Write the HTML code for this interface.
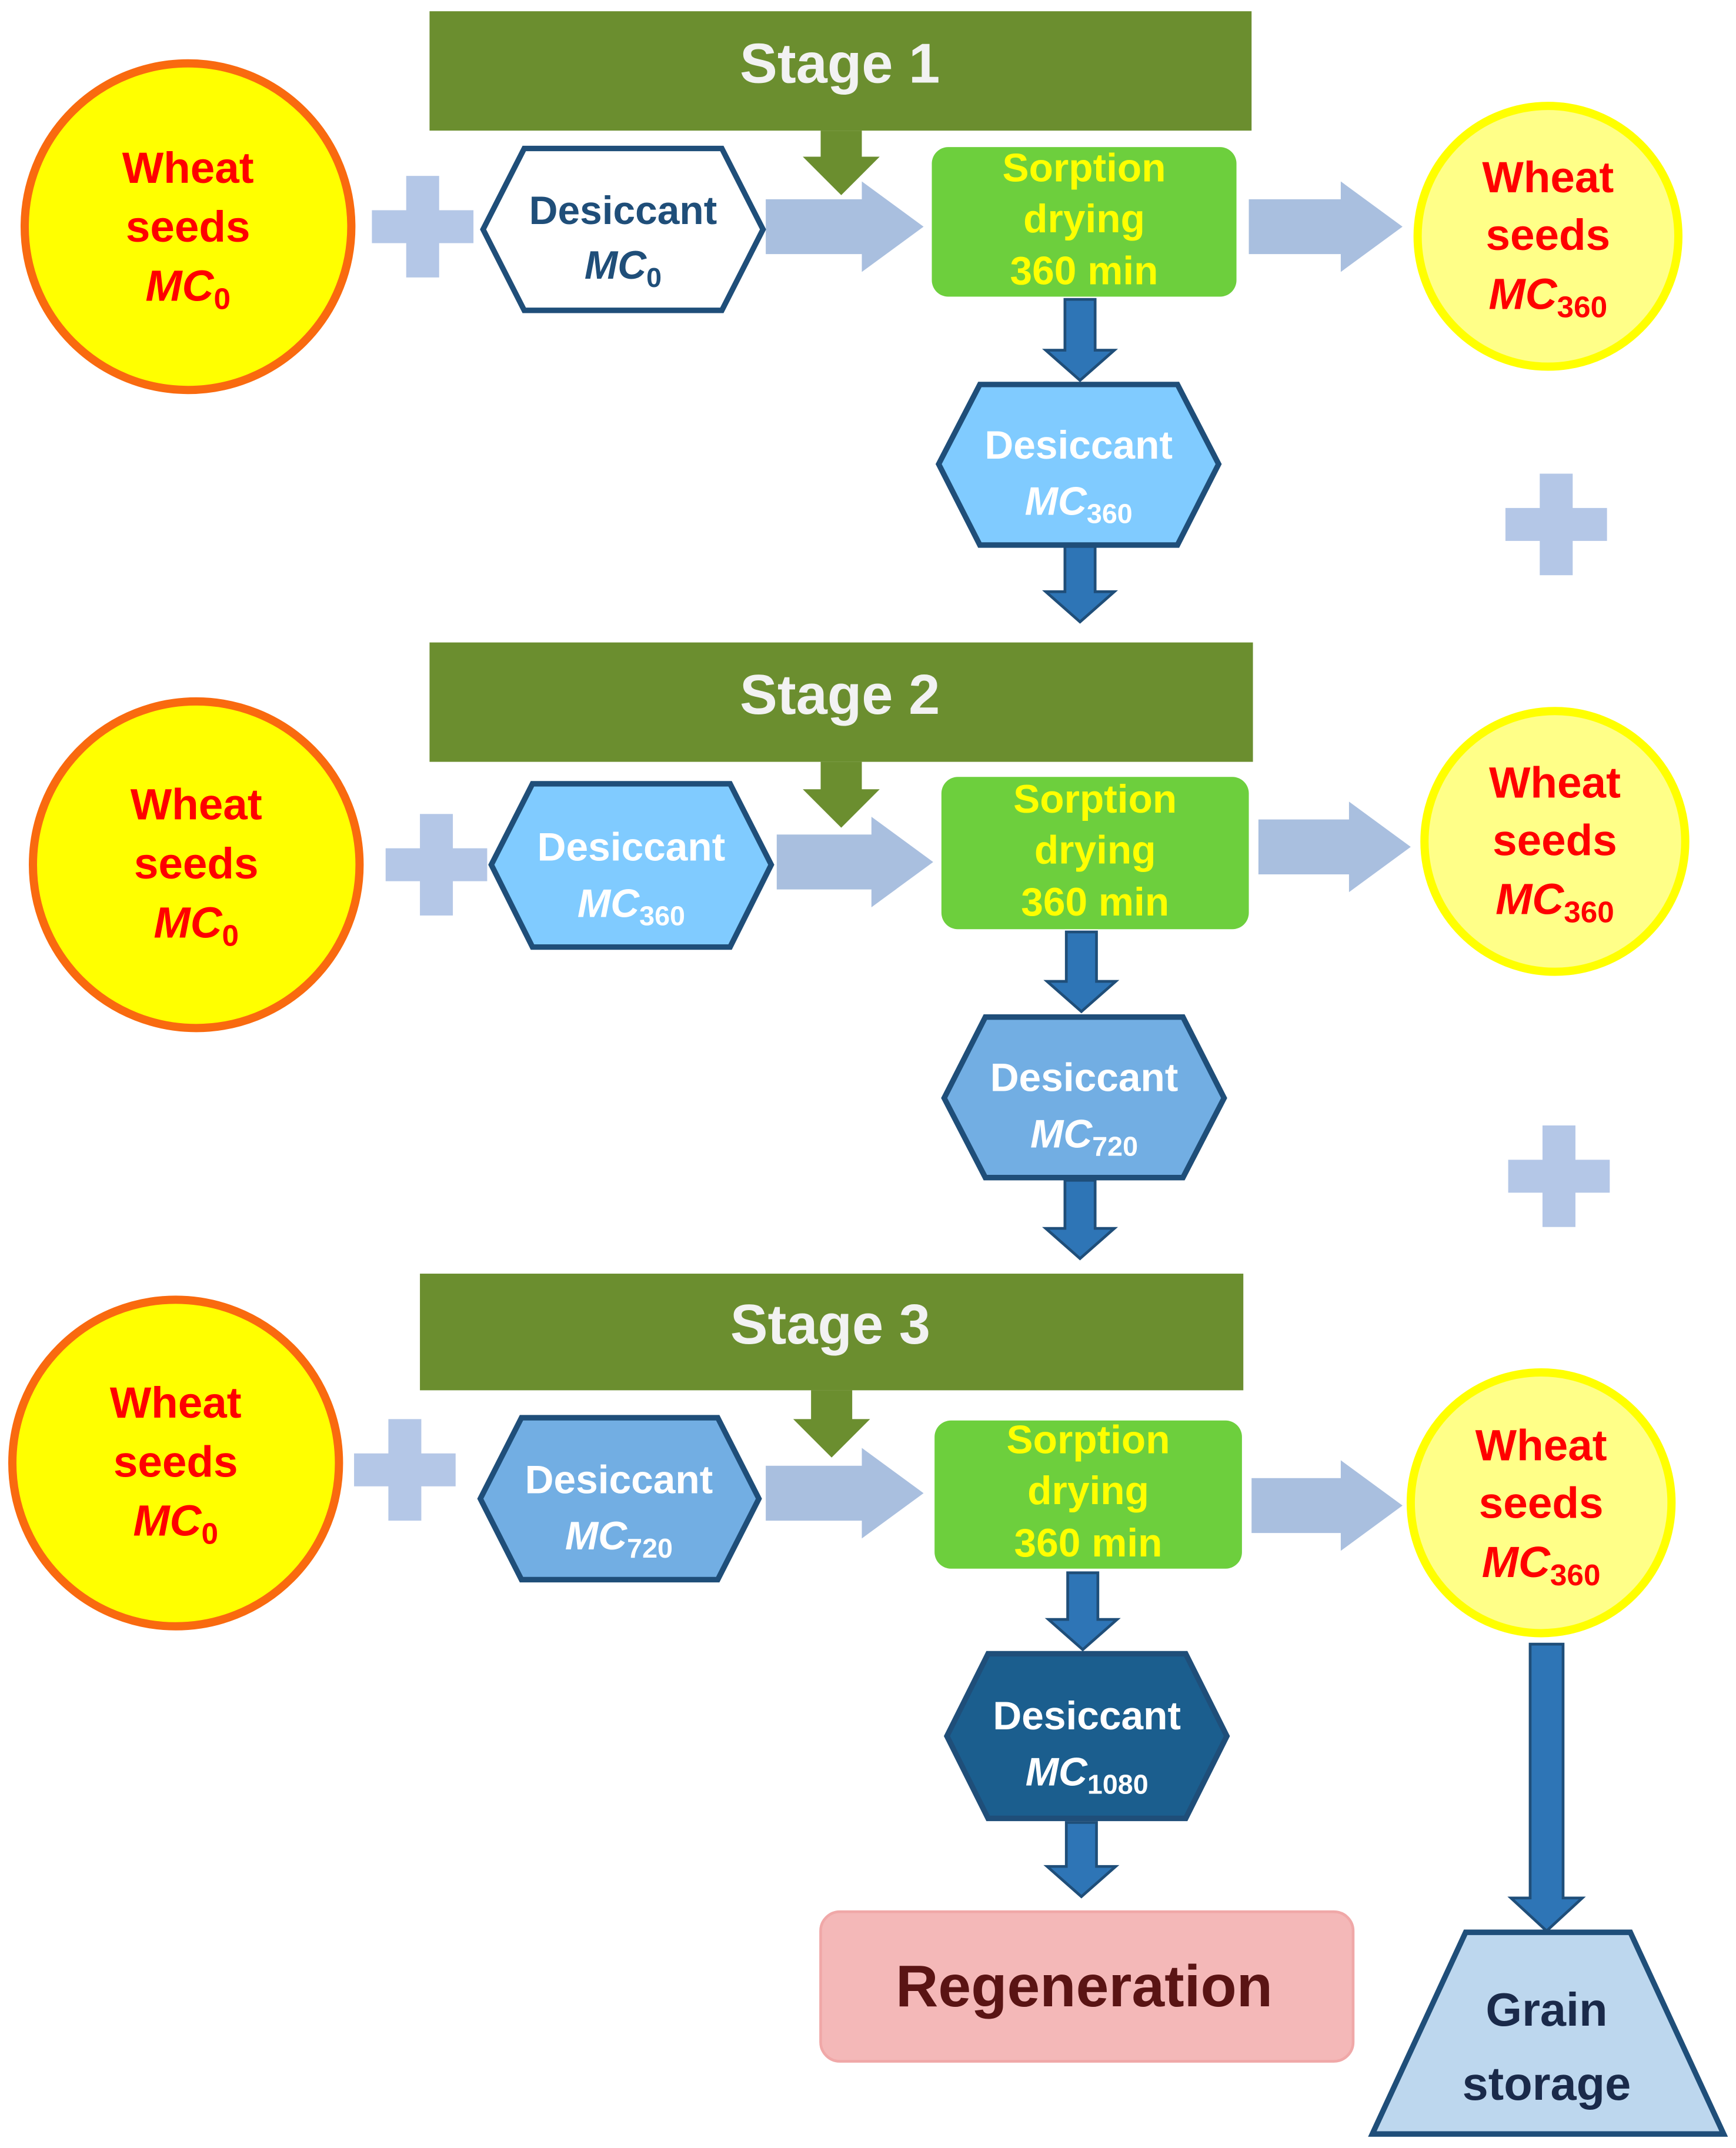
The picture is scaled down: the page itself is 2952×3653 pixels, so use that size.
<!DOCTYPE html>
<html><head><meta charset="utf-8"><style>
html,body{margin:0;padding:0;background:#fff;}
svg{display:block;}
text{font-family:"Liberation Sans",sans-serif;font-weight:bold;text-anchor:middle;}
</style></head><body>
<svg width="2952" height="3653" viewBox="0 0 1265 1565" xmlns="http://www.w3.org/2000/svg">
<rect width="1265" height="1565" fill="#fff"/>
<g fill="#6b8e2f">
<rect x="313" y="8" width="599" height="87"/>
<rect x="313" y="468" width="600" height="87"/>
<rect x="306" y="928" width="600" height="85"/>
<path d="M598,95 L628,95 L628,114 L641,114 L613,142 L585,114 L598,114Z"/>
<path d="M598,555 L628,555 L628,575 L641,575 L613,603 L585,575 L598,575Z"/>
<path d="M591,1013 L621,1013 L621,1034 L634,1034 L606,1062 L578,1034 L591,1034Z"/>
</g>
<g fill="#f2f2f2" font-size="41">
<text x="612" y="60">Stage 1</text>
<text x="612" y="520">Stage 2</text>
<text x="605" y="979">Stage 3</text>
</g>
<g fill="#ffff00" stroke="#f96a0f" stroke-width="6">
<circle cx="137" cy="165" r="119"/>
<circle cx="143" cy="630" r="119"/>
<circle cx="128" cy="1066" r="119"/>
</g>
<g fill="#ffff88" stroke="#ffff00" stroke-width="6">
<circle cx="1128" cy="172" r="95"/>
<circle cx="1133" cy="613" r="95"/>
<circle cx="1123" cy="1095" r="95"/>
</g>
<g fill="#ff0000" font-size="32">
<text x="137" y="133">Wheat</text><text x="137" y="176">seeds</text><text x="137" y="219" font-style="italic">MC<tspan font-size="22" dy="6" font-style="normal">0</tspan></text>
<text x="143" y="597">Wheat</text><text x="143" y="640">seeds</text><text x="143" y="683" font-style="italic">MC<tspan font-size="22" dy="6" font-style="normal">0</tspan></text>
<text x="128" y="1033">Wheat</text><text x="128" y="1076">seeds</text><text x="128" y="1119" font-style="italic">MC<tspan font-size="22" dy="6" font-style="normal">0</tspan></text>
<text x="1128" y="140">Wheat</text><text x="1128" y="182">seeds</text><text x="1128" y="225" font-style="italic">MC<tspan font-size="22" dy="6" font-style="normal">360</tspan></text>
<text x="1133" y="581">Wheat</text><text x="1133" y="623">seeds</text><text x="1133" y="666" font-style="italic">MC<tspan font-size="22" dy="6" font-style="normal">360</tspan></text>
<text x="1123" y="1064">Wheat</text><text x="1123" y="1106">seeds</text><text x="1123" y="1149" font-style="italic">MC<tspan font-size="22" dy="6" font-style="normal">360</tspan></text>
</g>
<g fill="#b4c7e7">
<rect x="271" y="153" width="74" height="24"/><rect x="296" y="128" width="24" height="74"/>
<rect x="281" y="618" width="74" height="24"/><rect x="306" y="593" width="24" height="74"/>
<rect x="258" y="1059" width="74" height="24"/><rect x="283" y="1034" width="24" height="74"/>
<rect x="1097" y="370" width="74" height="24"/><rect x="1122" y="345" width="24" height="74"/>
<rect x="1099" y="845" width="74" height="24"/><rect x="1124" y="820" width="24" height="74"/>
</g>
<g fill="#a9bfdf">
<path d="M558,145 L628,145 L628,132 L673,165 L628,198 L628,185 L558,185Z"/>
<path d="M910,145 L977,145 L977,132 L1022,165 L977,198 L977,185 L910,185Z"/>
<path d="M566,608 L635,608 L635,595 L680,628 L635,661 L635,648 L566,648Z"/>
<path d="M917,597 L983,597 L983,584 L1028,617 L983,650 L983,637 L917,637Z"/>
<path d="M558,1068 L628,1068 L628,1055 L673,1088 L628,1121 L628,1108 L558,1108Z"/>
<path d="M912,1077 L977,1077 L977,1064 L1022,1097 L977,1130 L977,1117 L912,1117Z"/>
</g>
<g fill="#6dcf3d">
<rect x="679" y="107" width="222" height="109" rx="12"/>
<rect x="686" y="566" width="224" height="111" rx="12"/>
<rect x="681" y="1035" width="224" height="108" rx="12"/>
</g>
<g fill="#ffff00" font-size="29">
<text x="790" y="132">Sorption</text><text x="790" y="169">drying</text><text x="790" y="207">360 min</text>
<text x="798" y="592">Sorption</text><text x="798" y="629">drying</text><text x="798" y="667">360 min</text>
<text x="793" y="1059">Sorption</text><text x="793" y="1096">drying</text><text x="793" y="1134">360 min</text>
</g>
<g fill="#2e75b6" stroke="#1f4e79" stroke-width="2">
<path d="M776,218 L798,218 L798,255 L812,255 L787,277 L762,255 L776,255Z"/>
<path d="M776,398 L798,398 L798,431 L812,431 L787,453 L762,431 L776,431Z"/>
<path d="M777,679 L799,679 L799,715 L813,715 L788,737 L763,715 L777,715Z"/>
<path d="M776,860 L798,860 L798,895 L812,895 L787,917 L762,895 L776,895Z"/>
<path d="M778,1146 L800,1146 L800,1180 L814,1180 L789,1202 L764,1180 L778,1180Z"/>
<path d="M777,1328 L799,1328 L799,1360 L813,1360 L788,1382 L763,1360 L777,1360Z"/>
<path d="M1115,1198 L1139,1198 L1139,1383 L1153,1383 L1127,1407 L1101,1383 L1115,1383Z"/>
</g>
<g stroke="#1f4e79" stroke-width="4">
<polygon fill="#ffffff" points="352,167 382,108 526,108 556,167 526,226 382,226"/>
<polygon fill="#80cbff" points="684,338 714,280 858,280 888,338 858,397 714,397"/>
<polygon fill="#80cbff" points="358,630 388,571 532,571 562,630 532,690 388,690"/>
<polygon fill="#72aee3" points="688,800 718,741 862,741 892,800 862,858 718,858"/>
<polygon fill="#72aee3" points="350,1092 380,1033 523,1033 553,1092 523,1151 380,1151"/>
<polygon fill="#1b5e8e" points="690,1265 720,1205 864,1205 894,1265 864,1325 720,1325"/>
</g>
<g font-size="29">
<text x="454" y="163" fill="#1f4e79">Desiccant</text><text x="454" y="203" fill="#1f4e79" font-style="italic">MC<tspan font-size="20" dy="6" font-style="normal">0</tspan></text>
<text x="786" y="334" fill="#fff">Desiccant</text><text x="786" y="375" fill="#fff" font-style="italic">MC<tspan font-size="20" dy="6" font-style="normal">360</tspan></text>
<text x="460" y="627" fill="#fff">Desiccant</text><text x="460" y="668" fill="#fff" font-style="italic">MC<tspan font-size="20" dy="6" font-style="normal">360</tspan></text>
<text x="790" y="795" fill="#fff">Desiccant</text><text x="790" y="836" fill="#fff" font-style="italic">MC<tspan font-size="20" dy="6" font-style="normal">720</tspan></text>
<text x="451" y="1088" fill="#fff">Desiccant</text><text x="451" y="1129" fill="#fff" font-style="italic">MC<tspan font-size="20" dy="6" font-style="normal">720</tspan></text>
<text x="792" y="1260" fill="#fff">Desiccant</text><text x="792" y="1301" fill="#fff" font-style="italic">MC<tspan font-size="20" dy="6" font-style="normal">1080</tspan></text>
</g>
<rect x="598" y="1393" width="388" height="109" rx="14" fill="#f4b8b8" stroke="#f0a8a8" stroke-width="2"/>
<text x="790" y="1462" font-size="43" fill="#5a1414">Regeneration</text>
<polygon points="1068,1408 1188,1408 1256,1555 1000,1555" fill="#bdd7ee" stroke="#1f4e79" stroke-width="4"/>
<text x="1127" y="1476" font-size="34" fill="#1a2a4a">Grain</text>
<text x="1127" y="1530" font-size="34" fill="#1a2a4a">storage</text>
</svg>
</body></html>
